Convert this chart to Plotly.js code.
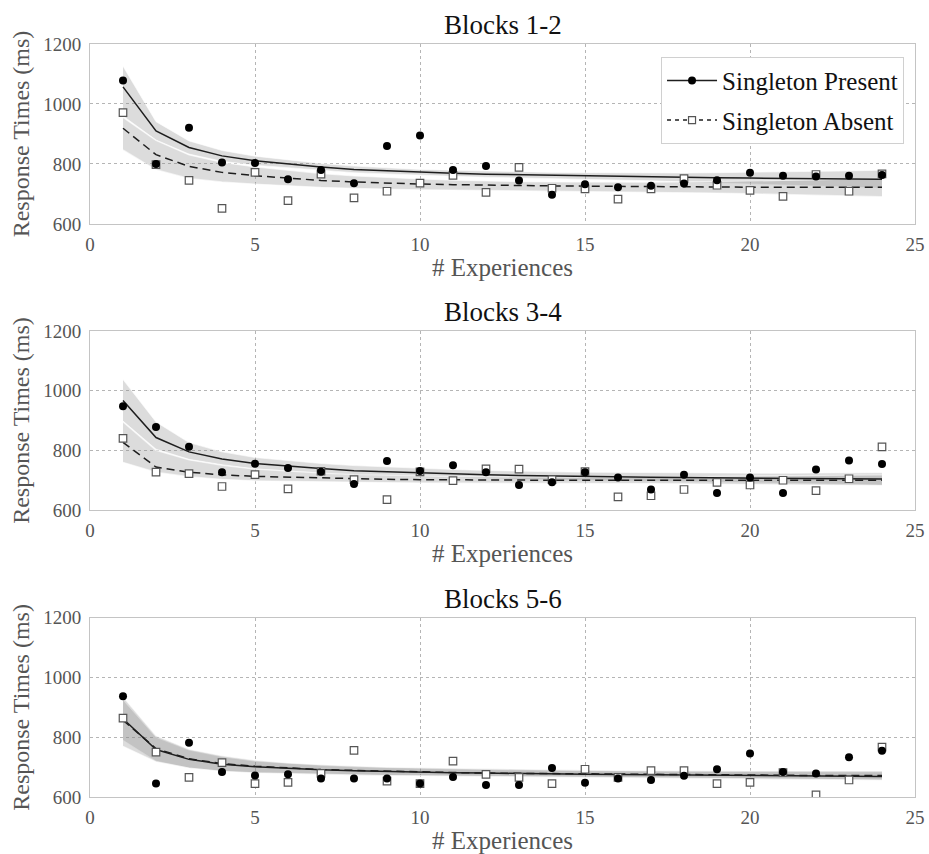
<!DOCTYPE html>
<html>
<head>
<meta charset="utf-8">
<script src="https://cdn.plot.ly/plotly-3.0.1.min.js"></script>
<style>html,body{margin:0;padding:0;background:#fff;}</style>
</head>
<body>
<div id="chart" style="width:929px;height:854px;"></div>
<script>
// ---- data ----
const panelTitles = ["Blocks 1-2", "Blocks 3-4", "Blocks 5-6"];
const seriesNames = ["Singleton Present", "Singleton Absent"];
const experiences = [1,2,3,4,5,6,7,8,9,10,11,12,13,14,15,16,17,18,19,20,21,22,23,24];
const xTicks = [0,5,10,15,20,25];
const yTicks = [600,800,1000,1200];

// Blocks 1-2
const b12Present    = [1078,800,921,805,803,749,780,736,860,895,780,793,745,697,732,722,727,735,746,771,761,758,761,763];
const b12Absent     = [971,798,745,652,772,678,766,687,709,736,762,705,789,719,717,683,717,751,729,712,692,765,709,767];
const b12PresentFit = [1057,910,855,827,811,800,790,782,777,772,769,766,764,762,760,758,757,755,754,753,752,751,750,749];
const b12AbsentFit  = [919,831,792,772,761,752,745,740,736,733,731,729,728,727,726,725,724,724,723,723,722,722,722,722];
const b12PresentHi  = [1126,941,877,845,826,813,802,793,787,782,779,776,774,772,771,770,770,770,771,772,773,775,777,779];
const b12PresentLo  = [960,880,833,809,796,787,778,771,767,762,759,756,754,752,749,746,744,740,737,734,731,727,723,719];
const b12AbsentHi   = [955,878,830,805,790,778,768,760,754,750,746,743,741,740,739,739,739,740,741,743,745,747,750,753];
const b12AbsentLo   = [847,781,752,740,733,727,722,719,716,714,713,712,711,710,709,708,707,705,703,701,699,697,694,691];

// Blocks 3-4
const b34Present    = [948,878,812,727,755,741,728,687,764,731,750,727,684,693,727,709,669,718,657,709,657,736,766,754];
const b34Absent     = [840,727,722,679,719,671,730,702,635,728,699,738,737,702,729,644,648,669,693,684,700,665,705,812];
const b34PresentFit = [967,843,795,771,756,747,739,732,728,725,721,718,716,714,712,711,710,709,708,707,706,705,705,704];
const b34AbsentFit  = [827,744,727,718,713,710,707,705,703,702,701,701,700,700,700,700,700,700,700,700,700,700,700,700];
const b34PresentHi  = [1037,895,826,795,776,765,756,749,744,740,736,733,730,728,727,726,725,724,724,723,723,724,724,725];
const b34PresentLo  = [898,804,770,752,738,731,724,717,714,711,708,705,703,701,699,698,697,695,694,692,690,688,686,684];
const b34AbsentHi   = [895,800,768,750,737,730,724,719,716,714,712,711,710,710,710,710,711,712,713,714,715,716,717,718];
const b34AbsentLo   = [760,727,712,703,698,696,694,693,692,691,691,690,690,690,690,690,689,688,687,686,685,684,683,682];

// Blocks 5-6
const b56Present    = [937,645,782,684,672,676,662,662,662,645,667,640,640,697,648,662,657,671,693,746,684,679,733,755];
const b56Absent     = [864,750,666,715,645,649,679,756,653,645,720,676,666,645,693,666,688,688,645,649,682,607,657,767];
const b56PresentFit = [862,759,726,710,701,695,691,688,685,683,681,680,678,677,676,675,674,673,672,672,671,670,670,669];
const b56AbsentFit  = [857,762,728,712,703,697,692,689,686,684,682,680,679,678,677,676,675,674,674,673,673,672,672,672];
const b56PresentHi  = [925,800,757,735,720,712,706,701,698,696,694,692,690,689,688,687,686,686,685,685,685,685,685,684];
const b56PresentLo  = [790,720,697,686,680,677,675,673,672,670,669,668,667,666,665,664,663,662,661,660,659,658,657,656];
const b56AbsentHi   = [935,805,760,738,723,714,708,703,700,698,696,694,692,691,690,689,688,688,687,687,687,687,687,687];
const b56AbsentLo   = [770,718,697,686,681,678,676,674,672,671,670,669,668,667,666,665,664,663,662,661,660,659,658,657];

// ---- styling ----
const FONT = "'Liberation Serif', 'Times New Roman', serif";
const bandFill = "rgba(140,140,140,0.30)";
const bandEdge = "rgba(255,255,255,0.6)";
const lineColor = "#1e1e1e";
const dashPattern = "8px,5px";

const panels = [
  {pres:b12Present, abs:b12Absent, pFit:b12PresentFit, aFit:b12AbsentFit, pHi:b12PresentHi, pLo:b12PresentLo, aHi:b12AbsentHi, aLo:b12AbsentLo},
  {pres:b34Present, abs:b34Absent, pFit:b34PresentFit, aFit:b34AbsentFit, pHi:b34PresentHi, pLo:b34PresentLo, aHi:b34AbsentHi, aLo:b34AbsentLo},
  {pres:b56Present, abs:b56Absent, pFit:b56PresentFit, aFit:b56AbsentFit, pHi:b56PresentHi, pLo:b56PresentLo, aHi:b56AbsentHi, aLo:b56AbsentLo}
];

const traces = [];
panels.forEach((p, i) => {
  const xa = i === 0 ? "x" : "x" + (i + 1);
  const ya = i === 0 ? "y" : "y" + (i + 1);
  const base = {x: experiences, xaxis: xa, yaxis: ya, showlegend: false, hoverinfo: "skip"};
  // present band
  traces.push(Object.assign({}, base, {y: p.pLo, mode: "lines", line: {color: bandEdge, width: 1}}));
  traces.push(Object.assign({}, base, {y: p.pHi, mode: "lines", fill: "tonexty", fillcolor: bandFill, line: {color: bandEdge, width: 1}}));
  // absent band
  traces.push(Object.assign({}, base, {y: p.aLo, mode: "lines", line: {color: bandEdge, width: 1.2}}));
  traces.push(Object.assign({}, base, {y: p.aHi, mode: "lines", fill: "tonexty", fillcolor: bandFill, line: {color: bandEdge, width: 1.2}}));
  // fit lines
  traces.push(Object.assign({}, base, {y: p.pFit, mode: "lines", line: {color: lineColor, width: 1.5}}));
  traces.push(Object.assign({}, base, {y: p.aFit, mode: "lines", line: {color: lineColor, width: 1.5, dash: dashPattern}}));
  // observed points
  traces.push(Object.assign({}, base, {y: p.abs, mode: "markers", marker: {symbol: "square", size: 7.5, color: "#ffffff", line: {color: "#555555", width: 1.2}}}));
  traces.push(Object.assign({}, base, {y: p.pres, mode: "markers", marker: {symbol: "circle", size: 8, color: "#000000"}}));
});

// legend entries (no drawn data)
traces.push({x: [null], y: [null], xaxis: "x", yaxis: "y", name: seriesNames[0], legendgroup: "a",
  mode: "lines+markers", line: {color: lineColor, width: 1.5}, marker: {symbol: "circle", size: 8, color: "#000"}});
traces.push({x: [null], y: [null], xaxis: "x", yaxis: "y", name: seriesNames[1], legendgroup: "b",
  mode: "lines+markers", line: {color: lineColor, width: 1.5, dash: "4px,4px"}, marker: {symbol: "square", size: 7, color: "#fff", line: {color: "#555", width: 1.2}}});

const domains = [[0.761, 1], [0.381, 0.619], [0, 0.238]];

function xAxis(i) {
  return {
    domain: [0, 1], anchor: i === 0 ? "y" : "y" + (i + 1),
    range: [0, 25], tickvals: xTicks, ticktext: xTicks.map(String),
    showgrid: true, gridcolor: "#b5b5b5", griddash: "dot", gridwidth: 1,
    showline: true, mirror: true, linecolor: "#c4c4c4", linewidth: 1,
    zeroline: false, ticks: "", ticklabelstandoff: 3,
    tickfont: {family: FONT, size: 19, color: "#555555"},
    title: {text: "# Experiences", font: {family: FONT, size: 25, color: "#555555"}, standoff: 4},
    automargin: false
  };
}
function yAxis(i) {
  return {
    domain: domains[i], anchor: i === 0 ? "x" : "x" + (i + 1),
    range: [600, 1200], tickvals: yTicks, ticktext: yTicks.map(String),
    showgrid: true, gridcolor: "#b5b5b5", griddash: "dot", gridwidth: 1,
    showline: true, mirror: true, linecolor: "#c4c4c4", linewidth: 1,
    zeroline: false, ticks: "", ticklabelstandoff: 4,
    tickfont: {family: FONT, size: 19, color: "#555555"},
    title: {text: "Response Times (ms)", font: {family: FONT, size: 24, color: "#555555"}, standoff: 6},
    automargin: false
  };
}

const layout = {
  width: 929, height: 854,
  margin: {l: 90, r: 14, t: 44, b: 57},
  paper_bgcolor: "#ffffff", plot_bgcolor: "#ffffff",
  font: {family: FONT, color: "#222"},
  showlegend: true,
  legend: {
    x: 0.9867, xanchor: "right", y: 0.983, yanchor: "top",
    bgcolor: "#ffffff", bordercolor: "#d0d0d0", borderwidth: 1,
    font: {family: FONT, size: 25, color: "#111"},
    itemwidth: 50,
    traceorder: "grouped", tracegroupgap: 4
  },
  annotations: panelTitles.map((t, i) => ({
    text: t, xref: "paper", yref: "paper", x: 0.5, y: domains[i][1],
    xanchor: "center", yanchor: "bottom", yshift: 2, showarrow: false,
    font: {family: FONT, size: 27, color: "#111"}
  }))
};
[0, 1, 2].forEach(i => {
  layout[i === 0 ? "xaxis" : "xaxis" + (i + 1)] = xAxis(i);
  layout[i === 0 ? "yaxis" : "yaxis" + (i + 1)] = yAxis(i);
});

Plotly.newPlot("chart", traces, layout, {displayModeBar: false, staticPlot: true});
</script>
</body>
</html>
